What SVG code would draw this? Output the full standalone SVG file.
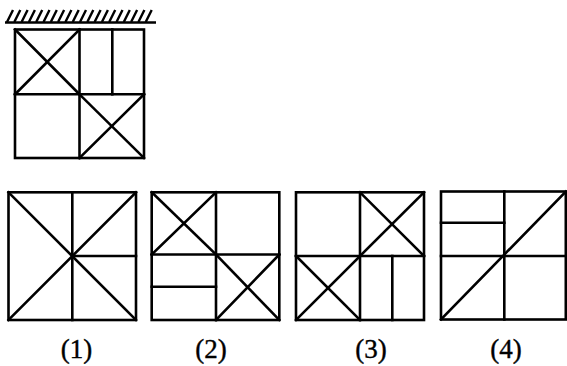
<svg xmlns="http://www.w3.org/2000/svg" width="567" height="366" viewBox="0 0 567 366">
<defs>
<style>
.f{fill:none;stroke:#000;stroke-width:2.6;stroke-linecap:square}
.h{stroke:#000;stroke-width:2.4;fill:none}
.t{font-family:"Liberation Serif","Times New Roman",serif;font-size:27px;fill:#000;stroke:#000;stroke-width:0.4;text-anchor:middle}
</style>
</defs>
<rect width="567" height="366" fill="#fff"/>
<g id="top">
<path class="h" d="M7,22 l6,-12 m1.3,12 l6,-12 m1.3,12 l6,-12 m1.3,12 l6,-12 m1.3,12 l6,-12 m1.3,12 l6,-12 m1.3,12 l6,-12 m1.3,12 l6,-12 m1.3,12 l6,-12 m1.3,12 l6,-12 m1.3,12 l6,-12 m1.3,12 l6,-12 m1.3,12 l6,-12 m1.3,12 l6,-12 m1.3,12 l6,-12 m1.3,12 l6,-12 m1.3,12 l6,-12 m1.3,12 l6,-12 m1.3,12 l6,-12 m1.3,12 l6,-12"/>
<line class="h" x1="5" y1="22.5" x2="156" y2="22.5" stroke-width="2.6"/>
<rect class="f" x="15" y="29.5" width="129" height="128.5"/>
<line class="f" x1="79.5" y1="29.5" x2="79.5" y2="158"/>
<line class="f" x1="15" y1="94.3" x2="144" y2="94.3"/>
<line class="f" x1="15" y1="29.5" x2="79.5" y2="94.3"/>
<line class="f" x1="79.5" y1="29.5" x2="15" y2="94.3"/>
<line class="f" x1="112.3" y1="29.5" x2="112.3" y2="94.3"/>
<line class="f" x1="79.5" y1="94.3" x2="144" y2="158"/>
<line class="f" x1="144" y1="94.3" x2="79.5" y2="158"/>
</g>
<g id="opt1">
<rect class="f" x="8.5" y="192.3" width="127.5" height="127.7"/>
<line class="f" x1="8.5" y1="192.3" x2="136" y2="320"/>
<line class="f" x1="136" y1="192.3" x2="8.5" y2="320"/>
<line class="f" x1="72.3" y1="192.3" x2="72.3" y2="320"/>
<line class="f" x1="72.3" y1="256" x2="136" y2="256"/>
</g>
<g id="opt2">
<rect class="f" x="151.7" y="192.3" width="127.6" height="127.7"/>
<line class="f" x1="216" y1="192.3" x2="216" y2="320"/>
<line class="f" x1="151.7" y1="254.5" x2="279.3" y2="254.5"/>
<line class="f" x1="151.7" y1="192.3" x2="216" y2="254.5"/>
<line class="f" x1="216" y1="192.3" x2="151.7" y2="254.5"/>
<line class="f" x1="216" y1="254.5" x2="279.3" y2="320"/>
<line class="f" x1="279.3" y1="254.5" x2="216" y2="320"/>
<line class="f" x1="151.7" y1="286.7" x2="216" y2="286.7"/>
</g>
<g id="opt3">
<rect class="f" x="296" y="192.3" width="128" height="127.7"/>
<line class="f" x1="360" y1="192.3" x2="360" y2="320"/>
<line class="f" x1="296" y1="256" x2="424" y2="256"/>
<line class="f" x1="360" y1="192.3" x2="424" y2="256"/>
<line class="f" x1="424" y1="192.3" x2="360" y2="256"/>
<line class="f" x1="296" y1="256" x2="360" y2="320"/>
<line class="f" x1="360" y1="256" x2="296" y2="320"/>
<line class="f" x1="392.3" y1="256" x2="392.3" y2="320"/>
</g>
<g id="opt4">
<rect class="f" x="441" y="191.5" width="124.8" height="128"/>
<line class="f" x1="504.3" y1="191.5" x2="504.3" y2="319.5"/>
<line class="f" x1="441" y1="256" x2="565.8" y2="256"/>
<line class="f" x1="441" y1="222.7" x2="504.3" y2="222.7"/>
<line class="f" x1="441" y1="319.5" x2="565.8" y2="191.5"/>
</g>
<g id="labels">
<text class="t" x="76.5" y="358">(1)</text>
<text class="t" x="211" y="358">(2)</text>
<text class="t" x="371" y="358">(3)</text>
<text class="t" x="506" y="358">(4)</text>
</g>
</svg>
